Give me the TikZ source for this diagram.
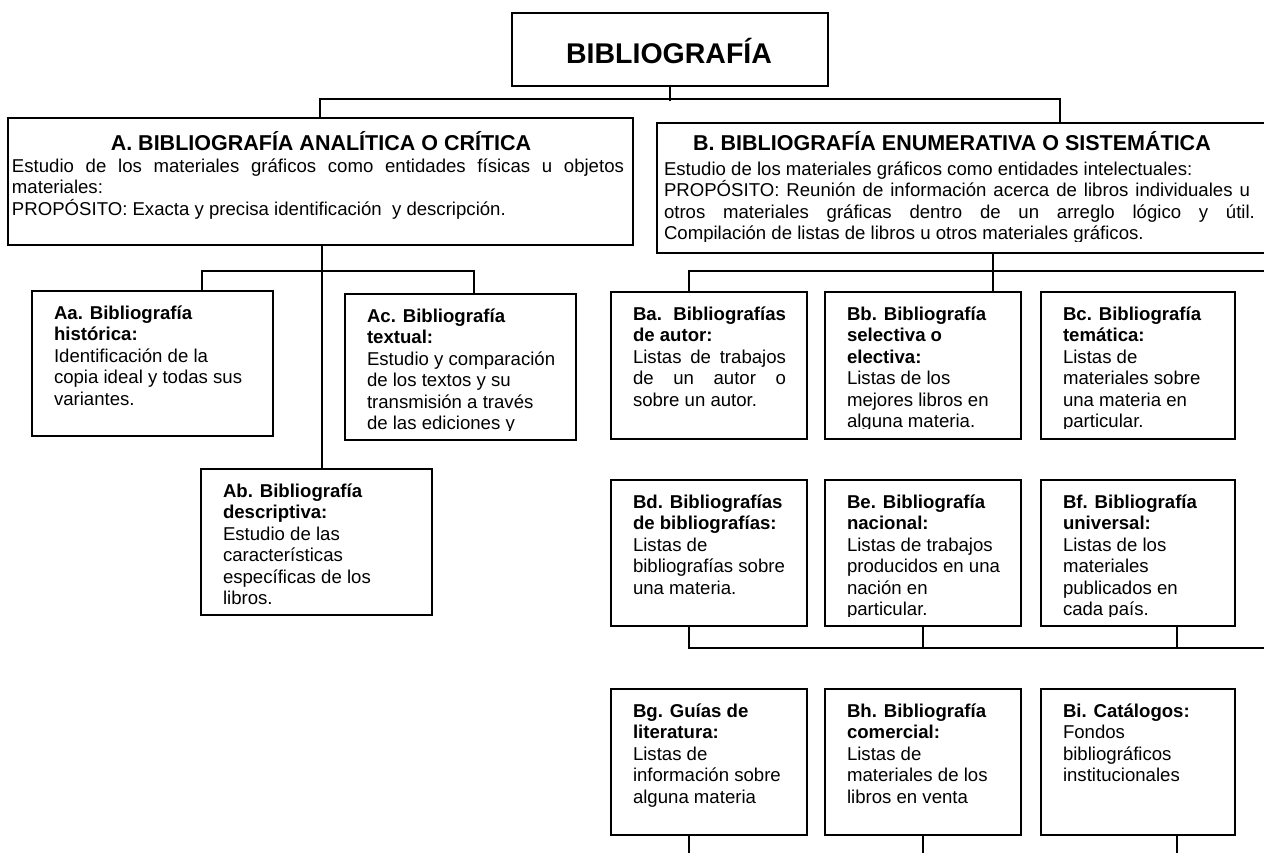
\documentclass[tikz,border=0pt]{standalone}
\usepackage{fontspec}
\setmainfont{Liberation Sans}
\newcommand{\fl}{\rule{0pt}{20pt}}
\newcommand{\jl}[2]{\makebox[#1pt][s]{#2}}
\tikzset{
  boxframe/.style={draw, line width=1.7pt, fill=white, anchor=north west, inner sep=0pt, outer sep=0pt},
  conn/.style={line width=1.7pt},
  boxtext/.style={anchor=north west, inner sep=0pt, outer sep=0pt, align=left, font=\fontsize{18.6}{21.5}\selectfont},
  headtext/.style={anchor=base, inner sep=0pt, font=\bfseries\fontsize{21.5}{24}\selectfont},
}
\newcommand{\cbox}[7]{%
  \node[boxframe, minimum width={(#4-#2)*1pt}, minimum height={(#5-#3)*1pt}] (#1) at (#2,#3) {};
  \begin{scope}
    \clip (#2,#3) rectangle (#4,#6);
    \node[boxtext] (#1t) at (#2+22,#3+8) {\fl#7};
  \end{scope}}
\begin{document}
\begin{tikzpicture}[x=1pt,y=-1pt]
\useasboundingbox (0,0) rectangle (1264,852);
\clip (0,0) rectangle (1264,852);
\fill[white] (0,0) rectangle (1264,852);

% title
\node[boxframe, minimum width=316pt, minimum height=73pt] (T) at (512,13) {};
\node[anchor=base, inner sep=0pt, font=\bfseries\fontsize{28.5}{31}\selectfont] (Tt) at (669,63) {BIBLIOGRAFÍA};

% A
\node[boxframe, minimum width=625pt, minimum height=127pt] (A) at (8,118) {};
\node[headtext] (At) at (321,150) {A. BIBLIOGRAFÍA ANALÍTICA O CRÍTICA};
\node[boxtext] (Ax) at (12,152) {\fl\jl{612}{Estudio de los materiales gráficos como entidades físicas u objetos}\\materiales:\\PROPÓSITO: Exacta y precisa identificación\ \ y descripción.};

% B
\node[boxframe, minimum width=620pt, minimum height=130pt] (B) at (657,123) {};
\node[headtext] (Bt) at (952,150) {B. BIBLIOGRAFÍA ENUMERATIVA O SISTEMÁTICA};
\begin{scope}
\clip (657,123) rectangle (1264,241);
\node[boxtext] (Bx) at (664,155) {\fl Estudio de los materiales gráficos como entidades intelectuales:\\\jl{586}{PROPÓSITO: Reunión de información acerca de libros individuales u}\\\jl{591}{otros materiales gráficas dentro de un arreglo lógico y útil.}\\Compilación de listas de libros u otros materiales gráficos.};
\end{scope}

% A children
\cbox{Aa}{32}{291}{273}{436}{434}{\textbf{Aa. Bibliografía}\\\textbf{histórica:}\\Identificación de la\\copia ideal y todas sus\\variantes.}
\cbox{Ac}{345}{294}{576}{440}{430.5}{\textbf{Ac. Bibliografía}\\\textbf{textual:}\\Estudio y comparación\\de los textos y su\\transmisión a través\\de las ediciones y}
\cbox{Ab}{201}{469}{432}{615}{613}{\textbf{Ab. Bibliografía}\\\textbf{descriptiva:}\\Estudio de las\\características\\específicas de los\\libros.}

% B children row 1
\cbox{Ba}{611}{292}{807}{439}{428.5}{\jl{153}{\textbf{Ba.\ \ Bibliografías}}\\\textbf{de autor:}\\\jl{153}{Listas de trabajos}\\\jl{153}{de un autor o}\\sobre un autor.}
\cbox{Bb}{825}{292}{1021}{439}{428.5}{\textbf{Bb. Bibliografía}\\\textbf{selectiva o}\\\textbf{electiva:}\\Listas de los\\mejores libros en\\alguna materia.}
\cbox{Bc}{1041}{292}{1235}{439}{428.5}{\textbf{Bc. Bibliografía}\\\textbf{temática:}\\Listas de\\materiales sobre\\una materia en\\particular.}
% row 2
\cbox{Bd}{611}{480}{807}{626}{616.5}{\textbf{Bd. Bibliografías}\\\textbf{de bibliografías:}\\Listas de\\bibliografías sobre\\una materia.}
\cbox{Be}{825}{480}{1021}{626}{616.5}{\textbf{Be. Bibliografía}\\\textbf{nacional:}\\Listas de trabajos\\producidos en una\\nación en\\particular.}
\cbox{Bf}{1041}{480}{1235}{626}{616.5}{\textbf{Bf. Bibliografía}\\\textbf{universal:}\\Listas de los\\materiales\\publicados en\\cada país.}
% row 3
\cbox{Bg}{611}{689}{807}{835}{833}{\textbf{Bg. Guías de}\\\textbf{literatura:}\\Listas de\\información sobre\\alguna materia}
\cbox{Bh}{825}{689}{1021}{835}{833}{\textbf{Bh. Bibliografía}\\\textbf{comercial:}\\Listas de\\materiales de los\\libros en venta}
\cbox{Bi}{1041}{689}{1235}{835}{833}{\textbf{Bi. Catálogos:}\\Fondos\\bibliográficos\\institucionales}

% connectors
\coordinate (jT) at (670,101);
\coordinate (jL) at (320,99);
\coordinate (jR) at (1060,99);
\draw[conn] (T.south) -- (jT);
\draw[conn] (jL |- A.north) -- (jL) -- (jR) -- (jR |- B.north);
\coordinate (ja0) at (322,271);
\draw[conn] (ja0 |- A.south) -- (ja0 |- Ab.north);
\coordinate (ja1) at (202,271);
\coordinate (ja2) at (474,271);
\draw[conn] (ja1 |- Aa.north) -- (ja1) -- (ja2) -- (ja2 |- Ac.north);
\coordinate (jb0) at (993,271);
\coordinate (jb1) at (689,271);
\coordinate (jbe) at (1275,271);
\draw[conn] (jb0 |- B.south) -- (jb0 |- Bb.north);
\draw[conn] (jb1 |- Ba.north) -- (jb1) -- (jbe);
\coordinate (r2a) at (689,648);
\coordinate (r2b) at (923,648);
\coordinate (r2c) at (1177,648);
\coordinate (r2e) at (1275,648);
\draw[conn] (r2a |- Bd.south) -- (r2a) -- (r2e);
\draw[conn] (r2b |- Be.south) -- (r2b);
\draw[conn] (r2c |- Bf.south) -- (r2c);
\coordinate (r3a) at (689,860);
\coordinate (r3b) at (923,860);
\coordinate (r3c) at (1177,860);
\draw[conn] (r3a |- Bg.south) -- (r3a);
\draw[conn] (r3b |- Bh.south) -- (r3b);
\draw[conn] (r3c |- Bi.south) -- (r3c);
\end{tikzpicture}
\end{document}
